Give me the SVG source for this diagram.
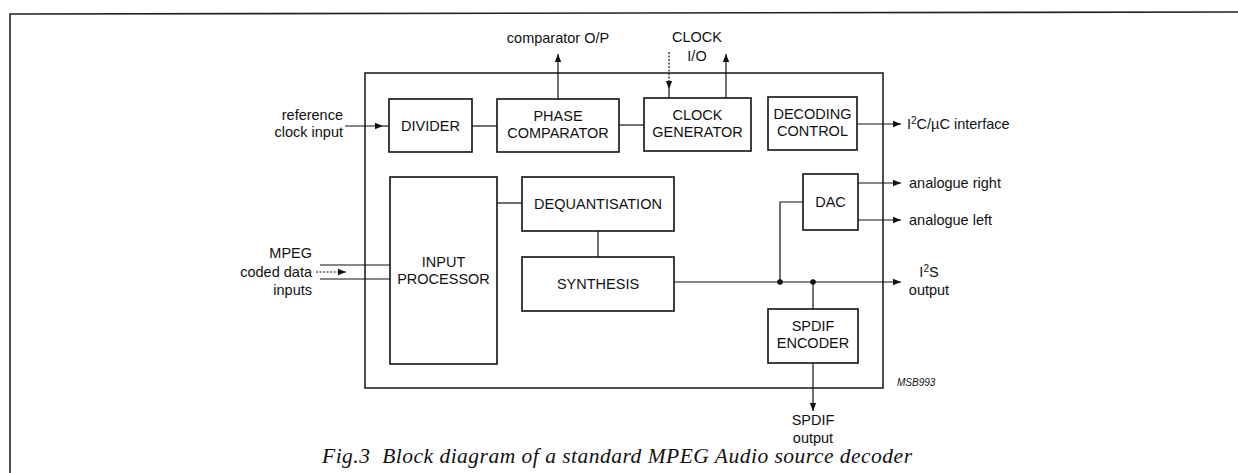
<svg xmlns="http://www.w3.org/2000/svg" width="1238" height="473" viewBox="0 0 1238 473">
<defs>
<marker id="ah" viewBox="0 0 10 10" refX="10" refY="5" markerWidth="8" markerHeight="8" markerUnits="userSpaceOnUse" orient="auto">
<path d="M0,1 L10,5 L0,9 z" fill="#111"/>
</marker>
</defs>
<style>
.box{fill:#fff;stroke:#111;stroke-width:1.6}
.frame{fill:none;stroke:#222;stroke-width:1.6}
.ln{fill:none;stroke:#111;stroke-width:1.2}
.dash{fill:none;stroke:#111;stroke-width:1.2;stroke-dasharray:2 1.5}
.t{font-family:"Liberation Sans",Arial,sans-serif;font-size:14.5px;fill:#111;text-anchor:middle}
.l{font-family:"Liberation Sans",Arial,sans-serif;font-size:14.5px;fill:#111}
.r{font-family:"Liberation Sans",Arial,sans-serif;font-size:14.5px;fill:#111;text-anchor:end}
.cap{font-family:"Liberation Serif","Times New Roman",serif;font-style:italic;font-size:21.5px;fill:#111}
.code{font-family:"Liberation Sans",Arial,sans-serif;font-style:italic;font-size:10px;fill:#111}
.dot{fill:#111}
</style>
<rect width="1238" height="473" fill="#fff"/>
<path class="frame" d="M10,475 L10,14 L1240,12"/>

<g id="chip"><rect class="frame" x="365" y="73" width="518" height="315"/></g>

<g id="connectors">
<line class="ln" x1="345" y1="126" x2="383" y2="126" marker-end="url(#ah)"/>
<line class="ln" x1="383" y1="126" x2="389" y2="126"/>
<line class="ln" x1="472" y1="126" x2="497" y2="126"/>
<line class="ln" x1="619" y1="125" x2="644" y2="125"/>
<line class="ln" x1="558" y1="99" x2="558" y2="54" marker-end="url(#ah)"/>
<line class="dash" x1="669" y1="52" x2="669" y2="89" marker-end="url(#ah)"/>
<line class="ln" x1="669" y1="89" x2="669" y2="98"/>
<line class="ln" x1="726" y1="98" x2="726" y2="54" marker-end="url(#ah)"/>
<line class="ln" x1="857" y1="124" x2="901" y2="124" marker-end="url(#ah)"/>
<line class="ln" x1="858" y1="183" x2="901" y2="183" marker-end="url(#ah)"/>
<line class="ln" x1="858" y1="220" x2="901" y2="220" marker-end="url(#ah)"/>
<line class="ln" x1="497" y1="203" x2="522" y2="203"/>
<line class="ln" x1="598" y1="231" x2="598" y2="257"/>
<line class="ln" x1="674" y1="282" x2="901" y2="282" marker-end="url(#ah)"/>
<polyline class="ln" points="780,282 780,202 803,202"/>
<line class="ln" x1="813" y1="282" x2="813" y2="309"/>
<line class="ln" x1="813" y1="363" x2="813" y2="411" marker-end="url(#ah)"/>
<line class="ln" x1="320" y1="265" x2="390" y2="265"/>
<line class="ln" x1="320" y1="279" x2="390" y2="279"/>
<line class="dash" x1="316" y1="272" x2="346" y2="272" marker-end="url(#ah)"/>
<circle class="dot" cx="780" cy="282" r="2.8"/>
<circle class="dot" cx="813" cy="282" r="2.8"/>
</g>

<g id="divider"><rect class="box" x="389" y="99" width="83" height="53"/><text class="t" x="430.5" y="131">DIVIDER</text></g>
<g id="phase-comparator"><rect class="box" x="497" y="99" width="122" height="53"/><text class="t" x="558" y="121">PHASE</text><text class="t" x="558" y="138">COMPARATOR</text></g>
<g id="clock-generator"><rect class="box" x="644" y="98" width="107" height="53"/><text class="t" x="697.5" y="120">CLOCK</text><text class="t" x="697.5" y="137">GENERATOR</text></g>
<g id="decoding-control"><rect class="box" x="768" y="97" width="89" height="53"/><text class="t" x="812.5" y="119">DECODING</text><text class="t" x="812.5" y="136">CONTROL</text></g>
<g id="input-processor"><rect class="box" x="390" y="177" width="107" height="187"/><text class="t" x="443.5" y="267">INPUT</text><text class="t" x="443.5" y="284">PROCESSOR</text></g>
<g id="dequantisation"><rect class="box" x="522" y="177" width="152" height="54"/><text class="t" x="598" y="209">DEQUANTISATION</text></g>
<g id="synthesis"><rect class="box" x="522" y="257" width="152" height="54"/><text class="t" x="598" y="289">SYNTHESIS</text></g>
<g id="dac"><rect class="box" x="803" y="174" width="55" height="56"/><text class="t" x="830.5" y="207">DAC</text></g>
<g id="spdif-encoder"><rect class="box" x="768" y="309" width="90" height="54"/><text class="t" x="813" y="331">SPDIF</text><text class="t" x="813" y="348">ENCODER</text></g>

<g id="labels">
<text class="r" x="343" y="120">reference</text>
<text class="r" x="343" y="137">clock input</text>
<text class="t" x="558" y="43">comparator O/P</text>
<text class="t" x="697" y="42">CLOCK</text>
<text class="t" x="697" y="61">I/O</text>
<text class="l" x="907" y="129">I<tspan font-size="10" dy="-5">2</tspan><tspan dy="5">C/µC interface</tspan></text>
<text class="l" x="909" y="188">analogue right</text>
<text class="l" x="909" y="225">analogue left</text>
<text class="t" x="929" y="277">I<tspan font-size="10" dy="-5">2</tspan><tspan dy="5">S</tspan></text>
<text class="t" x="929" y="295">output</text>
<text class="r" x="312" y="258">MPEG</text>
<text class="r" x="312" y="277">coded data</text>
<text class="r" x="312" y="295">inputs</text>
<text class="t" x="813" y="425">SPDIF</text>
<text class="t" x="813" y="443">output</text>
<text class="code" x="897" y="386">MSB993</text>
<text class="cap" x="322" y="463" textLength="590" lengthAdjust="spacing" xml:space="preserve">Fig.3  Block diagram of a standard MPEG Audio source decoder</text>
</g>
</svg>
